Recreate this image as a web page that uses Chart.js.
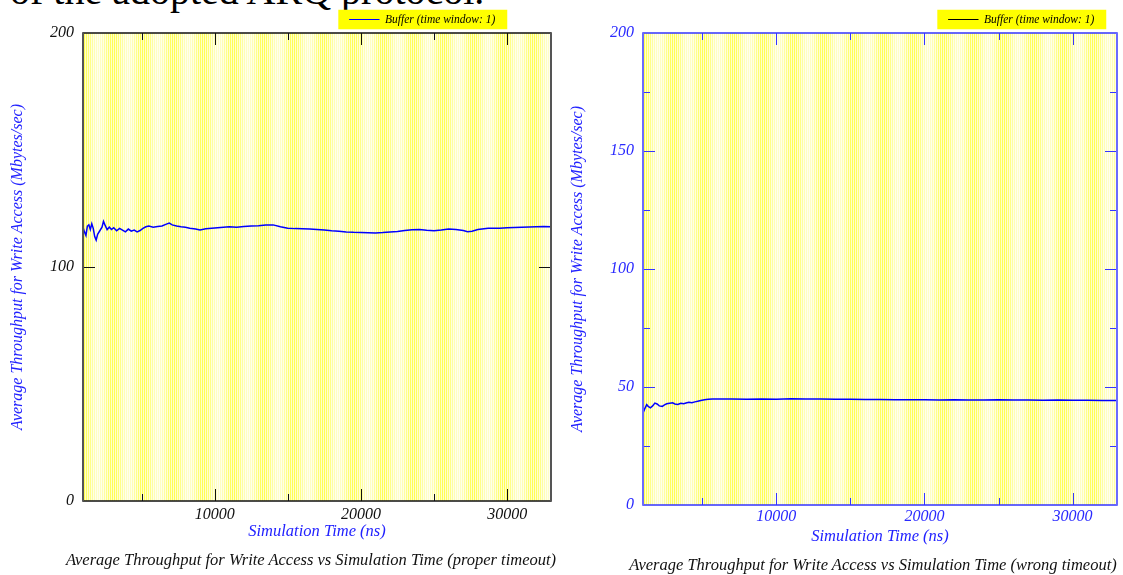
<!DOCTYPE html>
<html>
<head>
<meta charset="utf-8">
<script src="https://cdn.jsdelivr.net/npm/chart.js@4.4.1/dist/chart.umd.min.js"></script>
<style>
  body { margin: 0; width: 1123px; height: 575px; background: #fff; position: relative; overflow: hidden; font-family: "Liberation Serif", serif; }
  .box { position: absolute; top: 0; height: 575px; }
  #left { left: 0; width: 560px; }
  #right { left: 560px; width: 563px; }
  .cap { position: absolute; font-style: italic; font-size: 16.5px; color: #111; white-space: nowrap; text-align: center; width: 560px; }
  #top { position: absolute; left: 10px; top: -29px; font-size: 40px; line-height: 40px; color: #000; white-space: nowrap; }
</style>
</head>
<body>
<div id="top">of the adopted ARQ protocol.</div>
<div class="box" id="left"><canvas id="chart1"></canvas></div>
<div class="box" id="right"><canvas id="chart2"></canvas></div>
<div class="cap" style="left:31px; top:550px;">Average Throughput for Write Access vs Simulation Time (proper timeout)</div>
<div class="cap" style="left:593px; top:555px;">Average Throughput for Write Access vs Simulation Time (wrong timeout)</div>
<script>
// proper timeout run
const properTime = [1000, 1100, 1200, 1300, 1400, 1500, 1600, 1700, 1800, 1900, 2000, 2150, 2300, 2400, 2500, 2650, 2800, 2950,
  3100, 3300, 3500, 3700, 3900, 4100, 4300, 4500, 4700, 4900, 5100, 5300, 5500, 5800, 6100, 6400, 6700, 6900, 7100, 7400,
  7700, 8000, 8300, 8700, 9000, 9400, 9800, 10200, 10600, 11000, 11500, 12000, 12500, 13000, 13500, 14000, 14500, 15000,
  15500, 16000, 16500, 17000, 17500, 18000, 18500, 19000, 19500, 20000, 20500, 21000, 21500, 22000, 22500, 23000, 23500,
  24000, 24500, 25000, 25500, 26000, 26500, 27000, 27300, 27600, 28000, 28700, 29500, 30000, 30500, 31000, 31500, 32000,
  32500, 33000];
const properThroughput = [117, 115, 113.5, 117.5, 118, 116, 118.5, 116.5, 113, 111.5, 114, 115.5, 117, 119.5, 118, 116, 117, 116,
  116.8, 115.5, 116.5, 115.8, 115, 116.2, 115.3, 115.8, 115, 115.6, 116.5, 117.2, 117.5, 117, 117.3, 117.5, 118.3, 118.8, 118, 117.5,
  117.2, 117, 116.6, 116.2, 115.8, 116.3, 116.6, 116.8, 117, 117.2, 117, 117.3, 117.5, 117.6, 117.9, 118, 117.2, 116.6,
  116.4, 116.3, 116.2, 116, 115.8, 115.5, 115.3, 115, 114.8, 114.7, 114.6, 114.5, 114.7, 115, 115.2, 115.6, 115.9,
  116, 115.7, 115.5, 115.8, 116.2, 116, 115.6, 115.1, 115.3, 116, 116.6, 116.6, 116.8, 116.9, 117, 117.1, 117.2,
  117.3, 117.2];

// wrong timeout run
const wrongTime = [1000, 1100, 1250, 1350, 1500, 1650, 1800, 1950, 2100, 2300, 2450, 2600, 2800, 3000, 3150, 3350, 3550, 3750,
  3900, 4100, 4300, 4500, 4700, 4900, 5150, 5400, 5700, 6200, 7000, 8000, 9000, 10000, 11000, 12000, 13000, 14000, 15000,
  16000, 17000, 18000, 19000, 20000, 21000, 22000, 23000, 24000, 25000, 26000, 27000, 28000, 29000, 30000, 31000, 32000, 33000];
const wrongThroughput = [39, 40.5, 42.5, 41.8, 41.2, 42, 43.2, 42.8, 42, 41.8, 42.4, 42.9, 43.1, 43.3, 42.8, 42.6, 43.1, 42.9,
  43.2, 43.5, 43.3, 43.7, 44, 44.3, 44.6, 44.8, 44.9, 44.9, 44.9, 44.8, 44.9, 44.8, 45, 44.9, 44.9, 44.8, 44.8,
  44.7, 44.7, 44.6, 44.6, 44.6, 44.5, 44.6, 44.5, 44.5, 44.6, 44.5, 44.5, 44.4, 44.5, 44.4, 44.4, 44.3, 44.3];

const seriesLabel = 'Buffer (time window: 1)';
const xMajor = [10000, 20000, 30000];
const xMinor = [5000, 15000, 25000];
const properYMajor = [100];
const properYMinor = [];
const wrongYMajor = [50, 100, 150];
const wrongYMinor = [25, 75, 125, 175];

const serif = '"Liberation Serif", "DejaVu Serif", serif';

// yellow dotted background + yellow legend box, frame and inner ticks
const decor = {
  id: 'decor',
  afterLayout(chart, args, opts) {
    const lg = chart.legend;
    lg.right = opts.legendRight;
    lg.left = opts.legendRight - lg.width;
  },
  beforeDraw(chart, args, opts) {
    const {ctx, chartArea: a} = chart;
    ctx.save();
    for (let px = Math.floor(a.left); px < a.right; px++) {
      const band = 0.5 + 0.5 * Math.cos((px - a.left) / 30 * 2 * Math.PI);
      const k = px % 2 === 0 ? 0.22 + 0.45 * band : 0.06 + 0.16 * band;
      ctx.fillStyle = 'rgb(255,255,' + Math.round(255 - k * 255) + ')';
      ctx.fillRect(px, a.top, 1, a.bottom - a.top);
    }
    const hb = chart.legend.legendHitBoxes[0];
    if (hb) {
      ctx.fillStyle = '#ffff00';
      ctx.fillRect(hb.left - 11, hb.top - 4, hb.width + 23, hb.height + 8);
    }
    ctx.restore();
  },
  afterDatasetsDraw(chart, args, opts) {
    const {ctx, chartArea: a, scales} = chart;
    ctx.save();
    ctx.strokeStyle = opts.color;
    ctx.lineWidth = 1;
    const tick = (vals, len) => {
      vals.forEach(v => {
        const x = Math.round(scales.x.getPixelForValue(v)) + 0.5;
        ctx.beginPath();
        ctx.moveTo(x, a.bottom); ctx.lineTo(x, a.bottom - len);
        ctx.moveTo(x, a.top); ctx.lineTo(x, a.top + len);
        ctx.stroke();
      });
    };
    const ytick = (vals, len) => {
      vals.forEach(v => {
        const y = Math.round(scales.y.getPixelForValue(v)) + 0.5;
        ctx.beginPath();
        ctx.moveTo(a.left, y); ctx.lineTo(a.left + len, y);
        ctx.moveTo(a.right, y); ctx.lineTo(a.right - len, y);
        ctx.stroke();
      });
    };
    tick(xMajor, 12);
    tick(xMinor, 7);
    ytick(opts.yMajor, 12);
    ytick(opts.yMinor, 7);
    ctx.lineWidth = 1.5;
    ctx.strokeRect(a.left, a.top, a.right - a.left, a.bottom - a.top);
    ctx.strokeStyle = opts.sideColor;
    ctx.lineWidth = 2;
    ctx.beginPath();
    ctx.moveTo(a.left, a.top); ctx.lineTo(a.left, a.bottom);
    ctx.moveTo(a.right, a.top); ctx.lineTo(a.right, a.bottom);
    ctx.stroke();
    ctx.restore();
  }
};

const makeChart = (canvas, xs, ys, cfg) => {
  return new Chart(canvas, {
    type: 'line',
    data: {
      datasets: [{
        label: seriesLabel,
        data: xs.map((x, i) => ({x: x, y: ys[i]})),
        borderColor: '#0000ff',
        borderWidth: 1.5,
        pointRadius: 0,
        tension: 0
      }]
    },
    options: {
      responsive: true,
      maintainAspectRatio: false,
      animation: false,
      layout: { padding: { top: 5, right: cfg.padRight, left: 0, bottom: 0 } },
      plugins: {
        tooltip: { enabled: false },
        legend: {
          align: 'end',
          maxHeight: 28,
          labels: {
            font: { family: serif, style: 'italic', size: 11.5 },
            color: '#111',
            boxWidth: 30,
            boxHeight: 0,
            padding: 8.75,
            generateLabels: () => [{
              text: seriesLabel,
              fillStyle: 'rgba(0,0,0,0)',
              strokeStyle: cfg.legendLine,
              lineWidth: 1,
              datasetIndex: 0
            }]
          }
        },
        decor: {
          color: cfg.axisColor,
          sideColor: cfg.sideColor,
          yMajor: cfg.yMajor,
          yMinor: cfg.yMinor,
          legendRight: cfg.legendRight
        }
      },
      scales: {
        x: {
          type: 'linear',
          min: 1000,
          max: 33000,
          afterBuildTicks: s => { s.ticks = xMajor.map(v => ({value: v})); },
          afterFit: s => { s.height = cfg.xHeight; },
          grid: { display: false, drawTicks: false },
          border: { display: false },
          ticks: {
            padding: cfg.xPad,
            color: cfg.tickColor,
            font: { family: serif, style: 'italic', size: 16 },
            maxRotation: 0,
            callback: v => String(v)
          },
          title: {
            display: true,
            text: 'Simulation Time (ns)',
            color: '#2222ff',
            font: { family: serif, style: 'italic', size: 16.5 },
            padding: { top: 0, bottom: cfg.xTitlePad }
          }
        },
        y: {
          min: 0,
          max: 200,
          afterBuildTicks: s => { s.ticks = cfg.yLabels.map(v => ({value: v})); },
          afterFit: s => { s.width = 83; },
          grid: { display: false, drawTicks: false },
          border: { display: false },
          ticks: {
            padding: 9,
            color: cfg.tickColor,
            font: { family: serif, style: 'italic', size: 16 },
            callback: v => String(v)
          },
          title: {
            display: true,
            text: 'Average Throughput for Write Access (Mbytes/sec)',
            color: '#2222ff',
            font: { family: serif, style: 'italic', size: 16 },
            padding: { top: 8.5, bottom: 0 }
          }
        }
      }
    },
    plugins: [decor]
  });
};

makeChart(document.getElementById('chart1'), properTime, properThroughput, {
  padRight: 9, xHeight: 74, xPad: 4, xTitlePad: 33,
  tickColor: '#111', axisColor: '#111', sideColor: '#555', legendLine: '#0000ff',
  yLabels: [0, 100, 200], yMajor: properYMajor, yMinor: properYMinor, legendRight: 504
});

makeChart(document.getElementById('chart2'), wrongTime, wrongThroughput, {
  padRight: 6, xHeight: 70, xPad: 2, xTitlePad: 28,
  tickColor: '#2a2aff', axisColor: '#3535ff', sideColor: '#6a6aff', legendLine: '#000',
  yLabels: [0, 50, 100, 150, 200], yMajor: wrongYMajor, yMinor: wrongYMinor, legendRight: 543
});
</script>
</body>
</html>
